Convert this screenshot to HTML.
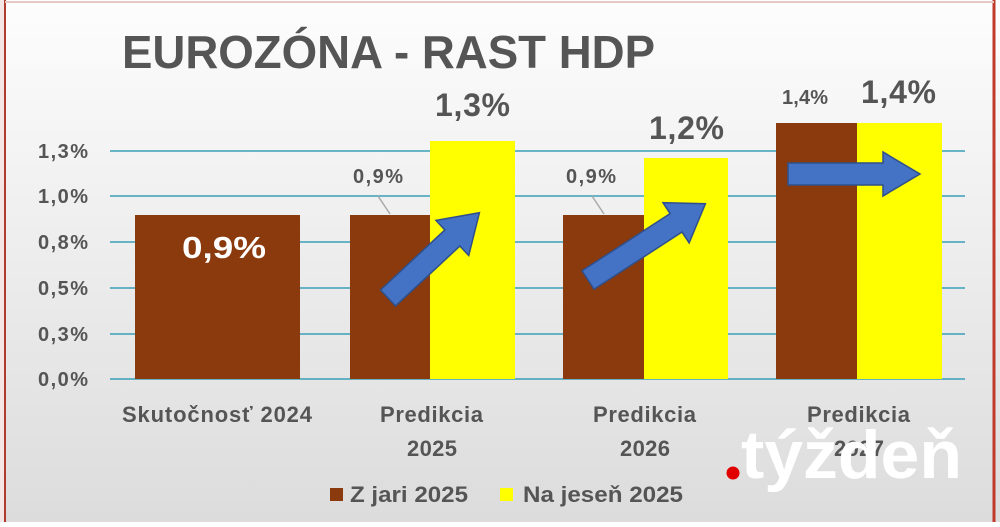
<!DOCTYPE html>
<html><head><meta charset="utf-8"><style>
body{margin:0;width:1000px;height:522px;overflow:hidden;font-family:"Liberation Sans",sans-serif;}
</style></head><body>
<svg width="1000" height="522" xmlns="http://www.w3.org/2000/svg">
<defs><linearGradient id="bg" x1="0" y1="0" x2="0" y2="1"><stop offset="0" stop-color="#fdfdfd"/><stop offset="1" stop-color="#dcdcdc"/></linearGradient></defs>
<rect width="1000" height="522" fill="url(#bg)"/>
<rect x="0" y="0" width="6" height="522" fill="#f4e6e4"/>
<line x1="5" y1="0" x2="5" y2="522" stroke="#b03a2e" stroke-width="2"/>
<line x1="994" y1="0" x2="994" y2="522" stroke="#c0392b" stroke-width="3"/>
<line x1="5" y1="2" x2="994" y2="2" stroke="#e8c8c4" stroke-width="2"/>
<text x="122" y="68" font-size="46" font-weight="bold" fill="#555" textLength="533" lengthAdjust="spacingAndGlyphs">EUROZÓNA - RAST HDP</text>
<g stroke="#3aa0b8" stroke-width="1.5">
<line x1="110" y1="151" x2="965" y2="151"/><line x1="110" y1="196" x2="965" y2="196"/>
<line x1="110" y1="242" x2="965" y2="242"/><line x1="110" y1="288" x2="965" y2="288"/>
<line x1="110" y1="334" x2="965" y2="334"/><line x1="110" y1="379" x2="965" y2="379"/>
</g>
<g font-size="20" font-weight="bold" fill="#555" lengthAdjust="spacingAndGlyphs">
<text x="38" y="158" textLength="50">1,3%</text><text x="38" y="203" textLength="50">1,0%</text><text x="38" y="249" textLength="50">0,8%</text>
<text x="38" y="295" textLength="50">0,5%</text><text x="38" y="341" textLength="50">0,3%</text><text x="38" y="386" textLength="50">0,0%</text>
</g>
<g fill="#8b3a0e">
<rect x="135" y="215" width="165" height="164"/>
<rect x="350" y="215" width="80" height="164"/>
<rect x="563" y="215" width="81" height="164"/>
<rect x="776" y="123" width="81" height="256"/>
</g>
<g fill="#ffff00">
<rect x="430" y="141" width="85" height="238"/>
<rect x="644" y="158" width="84" height="221"/>
<rect x="857" y="123" width="85" height="256"/>
</g>
<g stroke="#aaa" stroke-width="1.5"><line x1="378" y1="196" x2="390" y2="214"/><line x1="592" y1="196" x2="604" y2="214"/></g>
<text x="182" y="258" font-size="31" font-weight="bold" fill="#fff" textLength="84" lengthAdjust="spacingAndGlyphs">0,9%</text>
<g font-size="20" font-weight="bold" fill="#555" lengthAdjust="spacingAndGlyphs">
<text x="353" y="183" textLength="50">0,9%</text><text x="566" y="183" textLength="50">0,9%</text><text x="782" y="104" textLength="46">1,4%</text>
</g>
<g font-size="32" font-weight="bold" fill="#555" lengthAdjust="spacingAndGlyphs">
<text x="435" y="116" textLength="75">1,3%</text><text x="649" y="139" textLength="75">1,2%</text><text x="861" y="103" textLength="75">1,4%</text>
</g>
<g fill="#4472c4" stroke="#2f4f8a" stroke-width="1.5">
<polygon points="0,-11 88,-11 88,-24 125,0 88,24 88,11 0,11" transform="translate(388,298) rotate(-43)"/>
<polygon points="0,-11 105,-11 105,-24 140,0 105,24 105,11 0,11" transform="translate(588,280) rotate(-33)"/>
<polygon points="0,-11 95,-11 95,-22 132,0 95,22 95,11 0,11" transform="translate(788,174)"/>
</g>
<g font-size="22" font-weight="bold" fill="#555" lengthAdjust="spacingAndGlyphs">
<text x="122" y="422" textLength="190">Skutočnosť 2024</text>
<text x="380" y="422" textLength="103">Predikcia</text><text x="407" y="456" textLength="50">2025</text>
<text x="593" y="422" textLength="103">Predikcia</text><text x="620" y="456" textLength="50">2026</text>
<text x="807" y="422" textLength="103">Predikcia</text><text x="834" y="456" textLength="50">2027</text>
</g>
<rect x="330" y="488" width="13" height="13" fill="#8b3a0e"/>
<text x="350" y="502" font-size="22" font-weight="bold" fill="#555" textLength="118" lengthAdjust="spacingAndGlyphs">Z jari 2025</text>
<rect x="500" y="488" width="13" height="13" fill="#ffff00"/>
<text x="523" y="502" font-size="22" font-weight="bold" fill="#555" textLength="160" lengthAdjust="spacingAndGlyphs">Na jeseň 2025</text>
<circle cx="733" cy="473" r="6.5" fill="#e00000"/>
<text x="741" y="478" font-size="68" font-weight="bold" fill="#fff" textLength="221" lengthAdjust="spacingAndGlyphs">týždeň</text>
</svg>
</body></html>
